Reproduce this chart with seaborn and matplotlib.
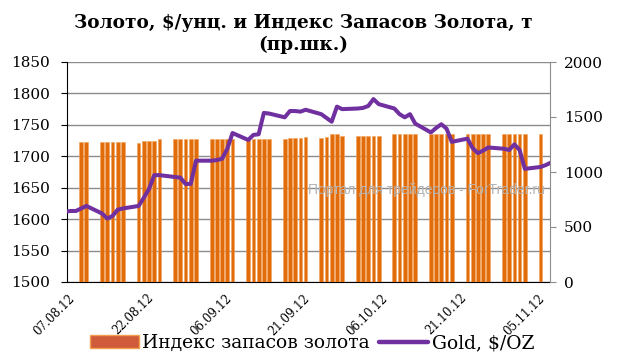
import pandas as pd
import seaborn as sns
import matplotlib.pyplot as plt
from matplotlib.patches import Patch
from matplotlib.lines import Line2D

# Gold price, $/oz (left scale), business days 06.08.12 - 07.11.12
gold_dates = pd.bdate_range("2012-08-06", "2012-11-07")
gold_price = [1612, 1613, 1613, 1617, 1621,
              1609, 1601, 1605, 1615, 1617,
              1621, 1634, 1648, 1670, 1670,
              1667, 1666, 1656, 1656, 1693,
              1693, 1694, 1696, 1712, 1737,
              1726, 1734, 1735, 1769, 1768,
              1762, 1772, 1772, 1771, 1774,
              1767, 1761, 1755, 1779, 1775,
              1776, 1777, 1780, 1791, 1783,
              1776, 1767, 1762, 1767, 1752,
              1738, 1745, 1751, 1744, 1723,
              1728, 1713, 1705, 1709, 1714,
              1712, 1710, 1719, 1710, 1680,
              1683, 1686, 1690]

# Gold reserves index, t (right scale), business days 09.08.12 - 05.11.12
index_dates = pd.bdate_range("2012-08-09", "2012-11-05")
index_values = [1270, 1270,
                1270, 1270, 1270, 1270, 1270,
                1267, 1282, 1282, 1284, 1297,
                1298, 1298, 1298, 1298, 1298,
                1298, 1298, 1298, 1298, 1298,
                1298, 1298, 1298, 1298, 1298,
                1297, 1312, 1312, 1312, 1315,
                1312, 1318, 1342, 1342, 1325,
                1330, 1330, 1330, 1330, 1330,
                1342, 1342, 1342, 1342, 1342,
                1342, 1342, 1342, 1342, 1342,
                1342, 1342, 1342, 1342, 1342,
                1342, 1342, 1342, 1342, 1342,
                1342]

tick_labels = ["07.08.12", "22.08.12", "06.09.12", "21.09.12",
               "06.10.12", "21.10.12", "05.11.12"]

serif = "DejaVu Serif"
bar_color = "#E36C0A"
line_color = "#7030A0"

sns.set_style("white")
plt.rcParams["font.family"] = [serif, "DejaVu Sans"]
plt.rcParams["text.color"] = "black"
plt.rcParams["xtick.color"] = "black"
plt.rcParams["ytick.color"] = "black"

fig = plt.figure(figsize=(6.24, 3.62), dpi=100)
ax = fig.add_axes([66.7 / 624, 1 - 282 / 362, (550 - 66.7) / 624, 220 / 362])
ax2 = ax.twinx()   # bars, right scale
ax3 = ax.twinx()   # line, left scale, drawn on top

shift = pd.Timedelta(hours=11)
ax2.bar(index_dates + shift, index_values, width=0.72,
        color=bar_color, edgecolor="#F0A25A", linewidth=0.4)
sns.lineplot(x=gold_dates + shift, y=gold_price, ax=ax3, color=line_color,
             linewidth=2.9, solid_joinstyle="round")

start = pd.Timestamp("2012-08-07")
ax.set_xlim(start - pd.Timedelta(days=0.31), start + pd.Timedelta(days=92.28))

ax.set_ylim(1500, 1850)
ax.set_yticks(range(1500, 1851, 50))
ax3.set_ylim(1500, 1850)
ax3.set_yticks([])
ax3.set_ylabel("")
ax2.set_ylim(0, 2000)
ax2.set_yticks(range(0, 2001, 500))

ax.set_xticks(pd.to_datetime(tick_labels, format="%d.%m.%y"))
ax.set_xticklabels(tick_labels, rotation=45, ha="right", va="top",
                   rotation_mode="anchor", fontsize=8.5)

ax.grid(axis="y", color="#8C8C8C", linewidth=1)
ax.grid(axis="x", visible=False)
ax.tick_params(axis="y", direction="out", length=4, labelsize=11, pad=8)
ax.tick_params(axis="x", direction="out", length=4, pad=3)
ax2.tick_params(axis="y", direction="out", length=4, labelsize=11, pad=6,
                color="#8C8C8C", labelcolor="black")

for a in (ax, ax2, ax3):
    a.spines["top"].set_visible(False)
for s in ax3.spines.values():
    s.set_visible(False)
ax.spines["left"].set_color("black")
ax.spines["bottom"].set_color("black")
ax.spines["right"].set_visible(False)
ax2.spines["left"].set_visible(False)
ax2.spines["bottom"].set_visible(False)
ax2.spines["right"].set_color("#8C8C8C")

fig.text(0.486, 0.906, "Золото, $/унц. и Индекс Запасов Золота, т\n(пр.шк.)",
         ha="center", va="center", fontsize=13.3, fontweight="bold",
         family=serif, linespacing=1.2, color="black")

fig.text(308 / 624, 1 - 190 / 362, "Портал для трейдеров - ForTrader.ru",
         ha="left", va="center", fontsize=10, color="#B4B4B4",
         family="Liberation Sans", zorder=5)

handles = [Patch(facecolor="#CF5B3A", edgecolor="#F2A04E", label="Индекс запасов золота"),
           Line2D([], [], color=line_color, linewidth=3.2, label="Gold, $/OZ")]
fig.legend(handles=handles, loc="center", bbox_to_anchor=(0.50, 0.052), ncol=2,
           frameon=False, prop={"family": serif, "size": 13.5}, handlelength=2.6,
           handletextpad=0.2, columnspacing=0.5)

fig.savefig("out.png", dpi=100)
